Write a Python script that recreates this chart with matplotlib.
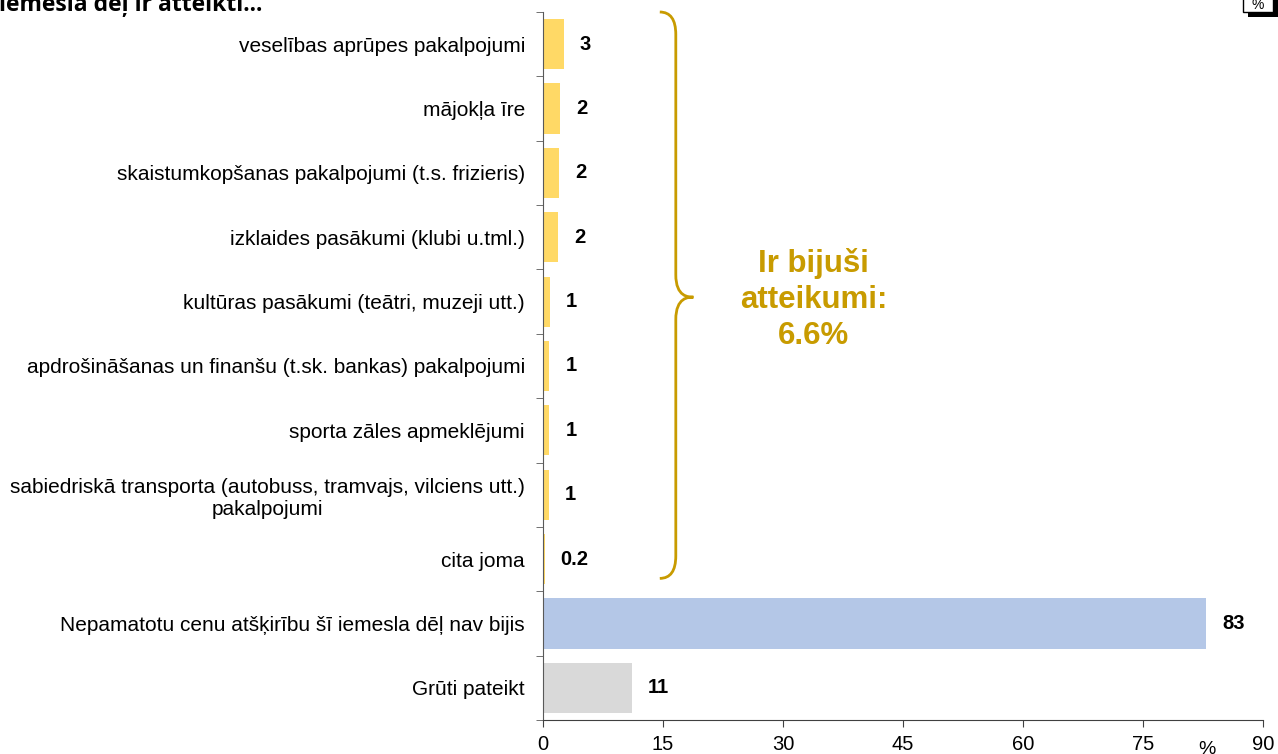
import matplotlib.pyplot as plt
import numpy as np
from matplotlib.path import Path
from matplotlib.patches import PathPatch, Rectangle

categories = [
    "veselības aprūpes pakalpojumi",
    "mājokļa īre",
    "skaistumkopšanas pakalpojumi (t.s. frizieris)",
    "izklaides pasākumi (klubi u.tml.)",
    "kultūras pasākumi (teātri, muzeji utt.)",
    "apdrošināšanas un finanšu (t.sk. bankas) pakalpojumi",
    "sporta zāles apmeklējumi",
    "sabiedriskā transporta (autobuss, tramvajs, vilciens utt.)\npakalpojumi",
    "cita joma",
    "Nepamatotu cenu atšķirību šī iemesla dēļ nav bijis",
    "Grūti pateikt",
]
values = [2.6, 2.1, 2.0, 1.9, 0.9, 0.8, 0.8, 0.7, 0.2, 82.9, 11.1]
value_labels = ["3", "2", "2", "2", "1", "1", "1", "1", "0.2", "83", "11"]
bar_colors = ["#FFD966"] * 9 + ["#B4C7E7", "#D9D9D9"]
xticks = [0, 15, 30, 45, 60, 75, 90]
brace_text = "Ir bijuši\natteikumi:\n6.6%"
gold = "#C89B00"

plt.rcParams['font.family'] = ['Liberation Sans', 'DejaVu Sans']

fig = plt.figure(figsize=(12.78, 7.54), dpi=100)
ax = fig.add_axes([543 / 1278, 1 - 720 / 754, 720 / 1278, 708 / 754])

y = np.arange(len(categories))
ax.barh(y, values, height=0.78, color=bar_colors)
for yi, v, lab in zip(y, values, value_labels):
    ax.annotate(lab, (v, yi), xytext=(11.5, 0), textcoords='offset points',
                ha='left', va='center', fontsize=14.5, fontweight='bold')

ax.set_xlim(0, 90)
ax.set_ylim(len(categories) - 0.5, -0.5)
ax.set_xticks(xticks)
ax.set_xticklabels([str(t) for t in xticks], fontsize=14.5)
ax.set_yticks(y)
ax.set_yticklabels(categories, fontsize=15, multialignment='center')
ax.set_yticks(np.arange(-0.5, len(categories) + 0.5, 1), minor=True)
ax.tick_params(axis='y', which='major', length=0, pad=13)
ax.tick_params(axis='y', which='minor', length=5, color='#595959')
ax.tick_params(axis='x', length=5, color='#404040', pad=6)
for s in ['top', 'right']:
    ax.spines[s].set_visible(False)
ax.spines['left'].set_color('#595959')
ax.spines['bottom'].set_color('#404040')

# brace around the yellow bars
x0, x1, xt = 14.6, 16.6, 18.8
top, bot, mid = -0.5, 8.3, 3.93
r = 0.35
verts = [
    (x0, top), (x1, top), (x1, top + r),
    (x1, mid - r),
    (x1, mid), (xt - 0.6, mid), (xt, mid),
    (xt - 0.6, mid), (x1, mid), (x1, mid + r),
    (x1, bot - r),
    (x1, bot), (x0, bot),
]
codes = [Path.MOVETO, Path.CURVE3, Path.CURVE3,
         Path.LINETO,
         Path.CURVE4, Path.CURVE4, Path.CURVE4,
         Path.CURVE4, Path.CURVE4, Path.CURVE4,
         Path.LINETO,
         Path.CURVE3, Path.CURVE3]
ax.add_patch(PathPatch(Path(verts, codes), facecolor='none', edgecolor=gold,
                       lw=2, clip_on=False))
ax.text(33.8, mid + 0.04, brace_text, ha='center', va='center', fontsize=22.5,
        fontweight='bold', color=gold, linespacing=1.25)

# unit label near x axis
fig.text(1207 / 1278, 1 - 749 / 754, "%", ha='center', va='center', fontsize=14)

# cut-off title at top left
fig.text(-0.001, 1 - 11 / 754, "iemesla dēļ ir atteikti...", ha='left',
         va='baseline', fontsize=16.5, fontweight='bold',
         family=['Open Sans', 'DejaVu Sans'])

# small box at top right
fig.patches.append(Rectangle((1248 / 1278, 1 - 17 / 754), 30 / 1278, 17 / 754,
                             transform=fig.transFigure, facecolor='black',
                             edgecolor='none'))
fig.patches.append(Rectangle((1243 / 1278, 1 - 12 / 754), 30 / 1278, 14 / 754,
                             transform=fig.transFigure, facecolor='white',
                             edgecolor='black', lw=1))
fig.text(1258 / 1278, 1 - 5 / 754, "%", ha='center', va='center', fontsize=10)

fig.savefig("out.png", dpi=100)
